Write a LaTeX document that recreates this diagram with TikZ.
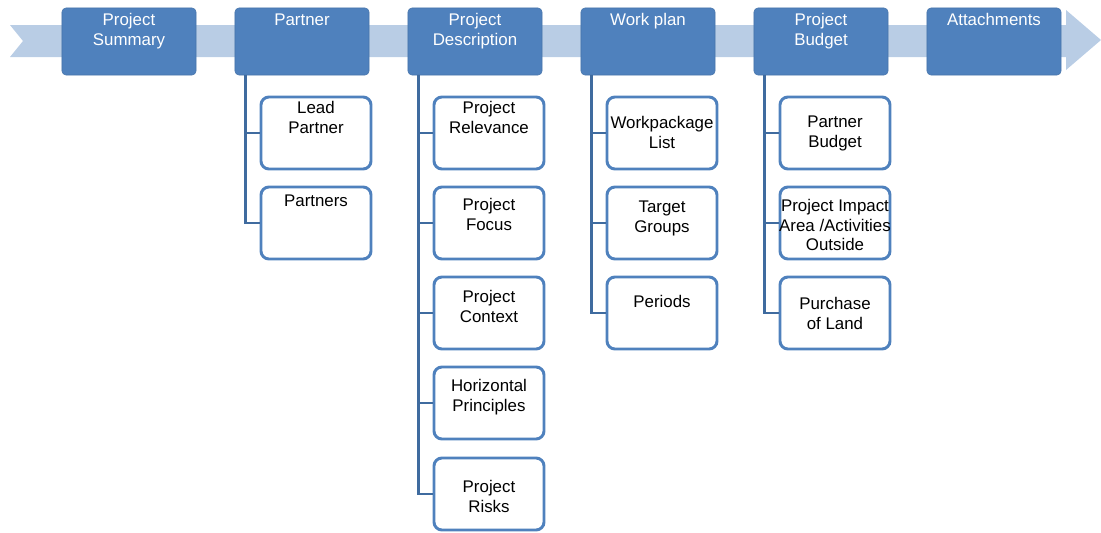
\documentclass[tikz,border=0pt]{standalone}
\usepackage{fontspec}
\setmainfont{Liberation Sans}
\usetikzlibrary{positioning}
\definecolor{stepblue}{HTML}{4F81BD}
\definecolor{bandblue}{HTML}{B9CDE5}
\definecolor{treeblue}{HTML}{3F6B9F}
\tikzset{
  topbox/.style={fill=stepblue, draw=stepblue!90!black, rounded corners=0.1cm,
    minimum width=3.35cm, minimum height=1.675cm, inner sep=0},
  toptext/.style={text=white, align=center, inner sep=0, font=\fontsize{12}{14}\selectfont},
  kid/.style={draw=stepblue, line width=2.1pt, fill=white, rounded corners=0.2cm,
    minimum width=2.75cm, minimum height=1.8cm, inner sep=0},
  kidtext/.style={align=center, inner sep=0, font=\fontsize{12}{14}\selectfont},
  tree/.style={draw=treeblue, line width=2pt}
}
\begin{document}
\begin{tikzpicture}[x=0.025cm, y=-0.025cm]
    \useasboundingbox (0,0) rectangle (1101,533);

    % the band behind the steps
    \fill[bandblue] (10,25) -- (1066,25) -- (1066,10) -- (1101,40) -- (1066,70)
        -- (1066,57) -- (10,57) -- (23,41) -- cycle;

    \foreach \nm/\txt [count=\i from 0] in {sum/{Project\\Summary},par/Partner,
        des/{Project\\Description},wp/Work plan,bud/{Project\\Budget},att/Attachments}{%
        \node[topbox] (\nm) at (129+173*\i,41.5) {};
        \node[toptext, below=0.135cm of \nm.north] (\nm-t) {\txt};
    }

    % Partner
    \node[kid] (lead) at (316,133) {};
    \node[kid] (partners) at (316,223) {};
    \node[kidtext, below=0.135cm of lead.north] (lead-t) {Lead\\Partner};
    \node[kidtext, below=0.235cm of partners.north] (partners-t) {Partners};

    % Project Description
    \node[kid] (relev) at (489,133) {};
    \node[kid] (focus) at (489,223) {};
    \node[kid] (context) at (489,313) {};
    \node[kid] (horiz) at (489,403) {};
    \node[kid] (risks) at (489,494) {};
    \node[kidtext, below=0.135cm of relev.north] (relev-t) {Project\\Relevance};
    \node[kidtext, below=0.31cm of focus.north] (focus-t) {Project\\Focus};
    \node[kidtext, below=0.36cm of context.north] (context-t) {Project\\Context};
    \node[kidtext, below=0.335cm of horiz.north] (horiz-t) {Horizontal\\Principles};
    \node[kidtext, below=0.585cm of risks.north] (risks-t) {Project\\Risks};

    % Work plan
    \node[kid] (wplist) at (662,133) {};
    \node[kid] (groups) at (662,223) {};
    \node[kid] (periods) at (662,313) {};
    \node[kidtext, below=0.51cm of wplist.north] (wplist-t) {Workpackage\\List};
    \node[kidtext, below=0.385cm of groups.north] (groups-t) {Target\\Groups};
    \node[kidtext, below=0.485cm of periods.north] (periods-t) {Periods};

    % Project Budget
    \node[kid] (pbud) at (835,133) {};
    \node[kid] (impact) at (835,223) {};
    \node[kid] (land) at (835,313) {};
    \node[kidtext, below=0.51cm of pbud.north] (pbud-t) {Partner\\Budget};
    \node[kidtext, below=0.335cm of impact.north] (impact-t) {Project Impact\\Area /Activities\\Outside};
    \node[kidtext, below=0.535cm of land.north] (land-t) {Purchase\\of Land};

    \foreach \k in {lead,partners}
        \draw[tree] ([xshift=0.275cm]par.south west) |- (\k.west);
    \foreach \k in {relev,focus,context,horiz,risks}
        \draw[tree] ([xshift=0.275cm]des.south west) |- (\k.west);
    \foreach \k in {wplist,groups,periods}
        \draw[tree] ([xshift=0.275cm]wp.south west) |- (\k.west);
    \foreach \k in {pbud,impact,land}
        \draw[tree] ([xshift=0.275cm]bud.south west) |- (\k.west);
\end{tikzpicture}
\end{document}
